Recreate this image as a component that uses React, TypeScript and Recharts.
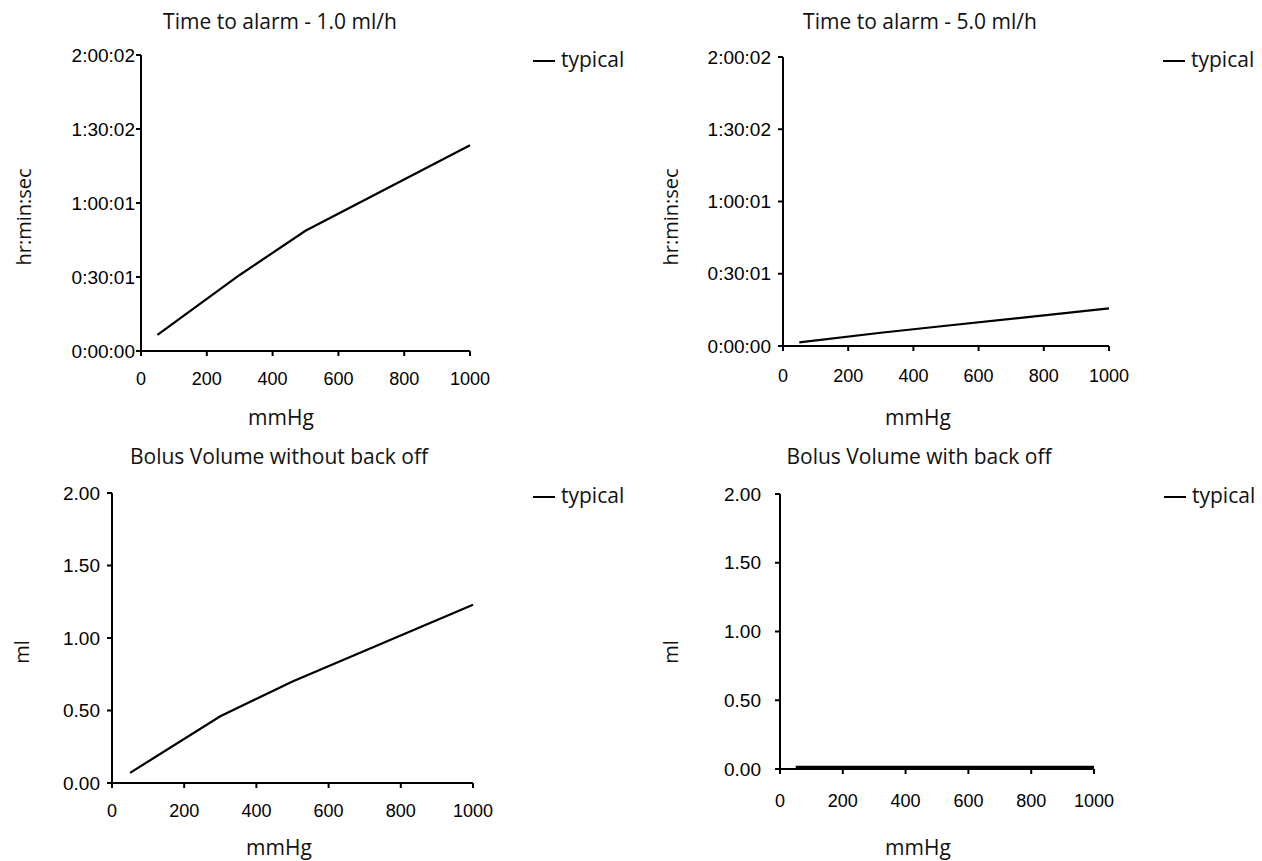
import React from 'react';
import { LineChart, Line, XAxis, YAxis } from 'recharts';

// pump occlusion test readings, x = pressure in mmHg
const pressure = [50, 300, 500, 1000];
const alarm1mlhSec = [390, 1850, 2925, 5004];
const alarm5mlhSec = [92, 330, 505, 938];
const bolusNoBackOff = [0.07, 0.46, 0.7, 1.23];
const bolusBackOff = [0.015, 0.015, 0.015, 0.015];

const pressureTicks = [0, 200, 400, 600, 800, 1000];
const timeTicks = [0, 1800.5, 3601, 5401.5, 7202];
const mlTicks = [0, 0.5, 1, 1.5, 2];

const titles = [
  'Time to alarm - 1.0 ml/h',
  'Time to alarm - 5.0 ml/h',
  'Bolus Volume without back off',
  'Bolus Volume with back off',
];
const yLabels = ['hr:min:sec', 'hr:min:sec', 'ml', 'ml'];
const xLabel = 'mmHg';
const seriesName = 'typical';

const pad = (n: number) => (n < 10 ? '0' + n : '' + n);
const fmtTime = (v: number) => {
  const s = Math.round(v);
  return `${Math.floor(s / 3600)}:${pad(Math.floor((s % 3600) / 60))}:${pad(s % 60)}`;
};
const fmtMl = (v: number) => v.toFixed(2);

const TICK_FONT = '"Liberation Sans", Arial, sans-serif';
const LABEL_FONT = '"Open Sans", "Noto Sans", sans-serif';

interface Panel {
  values: number[];
  kind: 'time' | 'ml';
  left: number;
  top: number;
  height: number;
  margin: { top: number; right: number; bottom: number; left: number };
  yTickMargin: number;
  xTickMargin: number;
  title: [number, number];
  xLab: [number, number];
  yLab: [number, number];
  legend: [number, number];
}

const panels: Panel[] = [
  {
    values: alarm1mlhSec, kind: 'time', left: 0, top: 0, height: 430,
    margin: { top: 55, right: 161, bottom: 39, left: 41 },
    yTickMargin: 1, xTickMargin: 16,
    title: [280, 28.5], xLab: [281, 425], yLab: [31, 217], legend: [533, 61],
  },
  {
    values: alarm5mlhSec, kind: 'time', left: 631, top: 0, height: 430,
    margin: { top: 57, right: 153, bottom: 44, left: 52 },
    yTickMargin: 7, xTickMargin: 18,
    title: [920, 28.5], xLab: [918, 425], yLab: [678, 217], legend: [1163, 61],
  },
  {
    values: bolusNoBackOff, kind: 'ml', left: 0, top: 430, height: 431,
    margin: { top: 63, right: 158, bottom: 38, left: 12 },
    yTickMargin: 7, xTickMargin: 16,
    title: [279, 463.5], xLab: [279, 855], yLab: [29, 652], legend: [533, 497],
  },
  {
    values: bolusBackOff, kind: 'ml', left: 631, top: 430, height: 431,
    margin: { top: 64, right: 168, bottom: 52, left: 49 },
    yTickMargin: 14, xTickMargin: 20,
    title: [919, 463.5], xLab: [918, 855], yLab: [678, 652], legend: [1164, 497],
  },
];

const PanelChart: React.FC<{ p: Panel }> = ({ p }) => {
  const data = pressure.map((x, i) => ({ x, y: p.values[i] }));
  const isTime = p.kind === 'time';
  return (
    <div style={{ position: 'absolute', left: p.left, top: p.top }}>
      <LineChart width={631} height={p.height} data={data} margin={p.margin}>
        <XAxis
          dataKey="x"
          type="number"
          domain={[0, 1000]}
          ticks={pressureTicks}
          interval={0}
          height={40}
          tickSize={5}
          tickMargin={p.xTickMargin}
          axisLine={{ stroke: '#000', strokeWidth: 2 }}
          tickLine={{ stroke: '#000', strokeWidth: 2 }}
          tick={{ fill: '#000', fontSize: 18, fontFamily: TICK_FONT }}
        />
        <YAxis
          type="number"
          domain={isTime ? [0, 7202] : [0, 2]}
          ticks={isTime ? timeTicks : mlTicks}
          tickFormatter={isTime ? fmtTime : fmtMl}
          interval={0}
          width={100}
          tickSize={5}
          tickMargin={p.yTickMargin}
          axisLine={{ stroke: '#000', strokeWidth: 2 }}
          tickLine={{ stroke: '#000', strokeWidth: 2 }}
          tick={{ fill: '#000', fontSize: 19, fontFamily: TICK_FONT }}
        />
        <Line
          dataKey="y"
          name={seriesName}
          type="linear"
          stroke="#000"
          strokeWidth={2.2}
          dot={false}
          activeDot={false}
          isAnimationActive={false}
        />
      </LineChart>
    </div>
  );
};

export default function App() {
  return (
    <div
      style={{
        position: 'absolute',
        left: 0,
        top: 0,
        width: 1262,
        height: 861,
        background: '#fff',
        fontFamily: LABEL_FONT,
      }}
    >
      {panels.map((p, i) => (
        <PanelChart key={i} p={p} />
      ))}
      <svg
        width={1262}
        height={861}
        style={{ position: 'absolute', left: 0, top: 0, pointerEvents: 'none' }}
        fontFamily={LABEL_FONT}
        fill="#111"
      >
        {panels.map((p, i) => (
          <g key={i}>
            <text x={p.title[0]} y={p.title[1]} textAnchor="middle" fontSize={21}>
              {titles[i]}
            </text>
            <text x={p.xLab[0]} y={p.xLab[1]} textAnchor="middle" fontSize={21}>
              {xLabel}
            </text>
            <text
              transform={`translate(${p.yLab[0]},${p.yLab[1]}) rotate(-90)`}
              textAnchor="middle"
              fontSize={20}
            >
              {yLabels[i]}
            </text>
            <line
              x1={p.legend[0]}
              x2={p.legend[0] + 22}
              y1={p.legend[1]}
              y2={p.legend[1]}
              stroke="#000"
              strokeWidth={2}
            />
            <text x={p.legend[0] + 28} y={p.legend[1] + 5.5} fontSize={21}>
              {seriesName}
            </text>
          </g>
        ))}
      </svg>
    </div>
  );
}
